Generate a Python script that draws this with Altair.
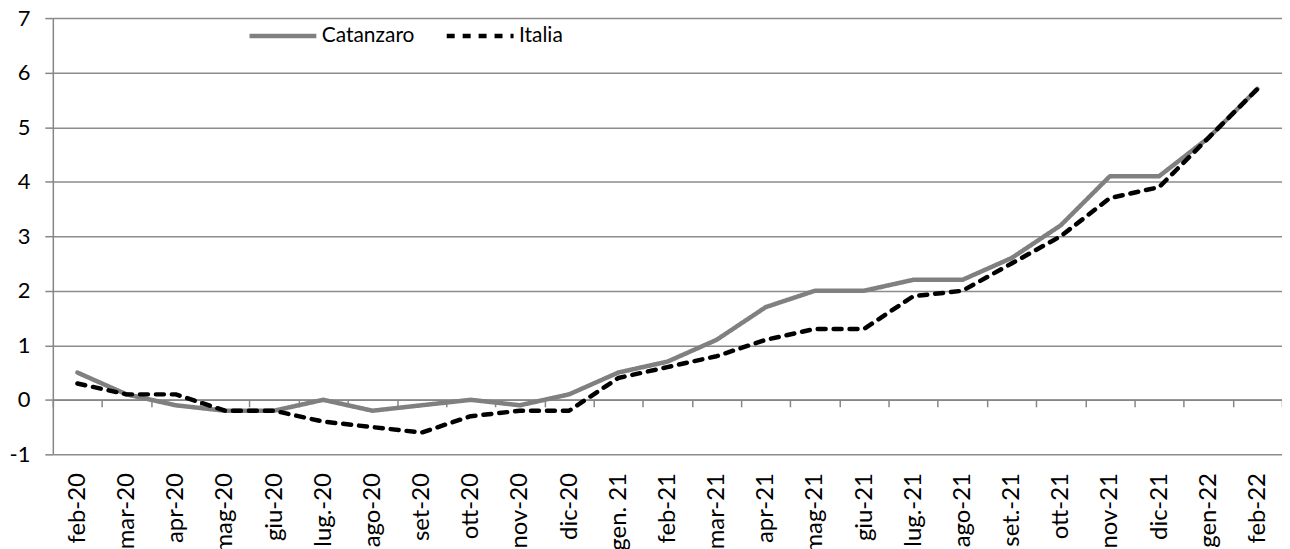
import altair as alt
import pandas as pd

months = ["feb-20", "mar-20", "apr-20", "mag-20", "giu-20", "lug.-20", "ago-20", "set-20",
          "ott-20", "nov-20", "dic-20", "gen. 21", "feb-21", "mar-21", "apr-21", "mag-21",
          "giu-21", "lug.-21", "ago-21", "set.-21", "ott-21", "nov-21", "dic-21", "gen-22", "feb-22"]
catanzaro = [0.5, 0.1, -0.1, -0.2, -0.2, 0.0, -0.2, -0.1, 0.0, -0.1, 0.1, 0.5, 0.7, 1.1, 1.7,
             2.0, 2.0, 2.2, 2.2, 2.6, 3.2, 4.1, 4.1, 4.8, 5.7]
italia = [0.3, 0.1, 0.1, -0.2, -0.2, -0.4, -0.5, -0.6, -0.3, -0.2, -0.2, 0.4, 0.6, 0.8, 1.1,
          1.3, 1.3, 1.9, 2.0, 2.5, 3.0, 3.7, 3.9, 4.8, 5.7]
series = ["Catanzaro", "Italia"]
y_ticks = [-1, 0, 1, 2, 3, 4, 5, 6, 7]

rows = []
for name, vals in zip(series, [catanzaro, italia]):
    for i, (m, v) in enumerate(zip(months, vals)):
        rows.append({"mese": m, "valore": v, "serie": name, "ord": i})
df = pd.DataFrame(rows)

FONT = "Lato"
PLOT_H = 438


def make_legend():
    return alt.Legend(title=None, orient="none", legendX=195, legendY=-18,
                      direction="horizontal", symbolType="stroke", symbolSize=4500,
                      symbolStrokeWidth=4.5, labelFont=FONT, labelFontSize=21,
                      labelColor="#000000", labelOffset=3, columnPadding=22, padding=0)


chart = alt.Chart(df).mark_line(strokeCap="round", strokeJoin="round").encode(
    x=alt.X("mese:N", sort=months, bandPosition=0.5,
            scale=alt.Scale(type="band", paddingInner=0, paddingOuter=0),
            axis=alt.Axis(title=None, labelAngle=-90, tickBand="extent", grid=False,
                          offset=-PLOT_H / 8, domainColor="#868686", domainWidth=1.5,
                          tickColor="#868686", tickWidth=1.5, tickSize=7,
                          labelPadding=66, labelFontSize=24, labelFont=FONT,
                          labelColor="#000000")),
    y=alt.Y("valore:Q", scale=alt.Scale(domain=[-1, 7], nice=False, zero=False),
            axis=alt.Axis(title=None, values=y_ticks, grid=True, gridColor="#8c8c8c",
                          gridWidth=1.5, domainColor="#868686", domainWidth=1.5,
                          tickColor="#868686", tickWidth=1.5, tickSize=8,
                          labelPadding=15, labelFontSize=22, labelFont=FONT,
                          labelColor="#000000", labelExpr="'' + datum.value")),
    color=alt.Color("serie:N", sort=series, legend=make_legend(),
                    scale=alt.Scale(domain=series, range=["#808080", "#000000"])),
    strokeDash=alt.StrokeDash("serie:N", sort=series, legend=make_legend(),
                              scale=alt.Scale(domain=series, range=[[1, 0], [8, 8]])),
    strokeWidth=alt.StrokeWidth("serie:N", sort=series, legend=None,
                                scale=alt.Scale(domain=series, range=[4.5, 4.5])),
    order=alt.Order("ord:Q"),
).properties(
    width=1234, height=PLOT_H,
    autosize=alt.AutoSizeParams(type="none"),
    padding={"left": 45, "top": 9, "right": 0, "bottom": 120},
).configure_view(stroke=None)

chart.save("out.html", embed_options={"renderer": "svg", "actions": False})
